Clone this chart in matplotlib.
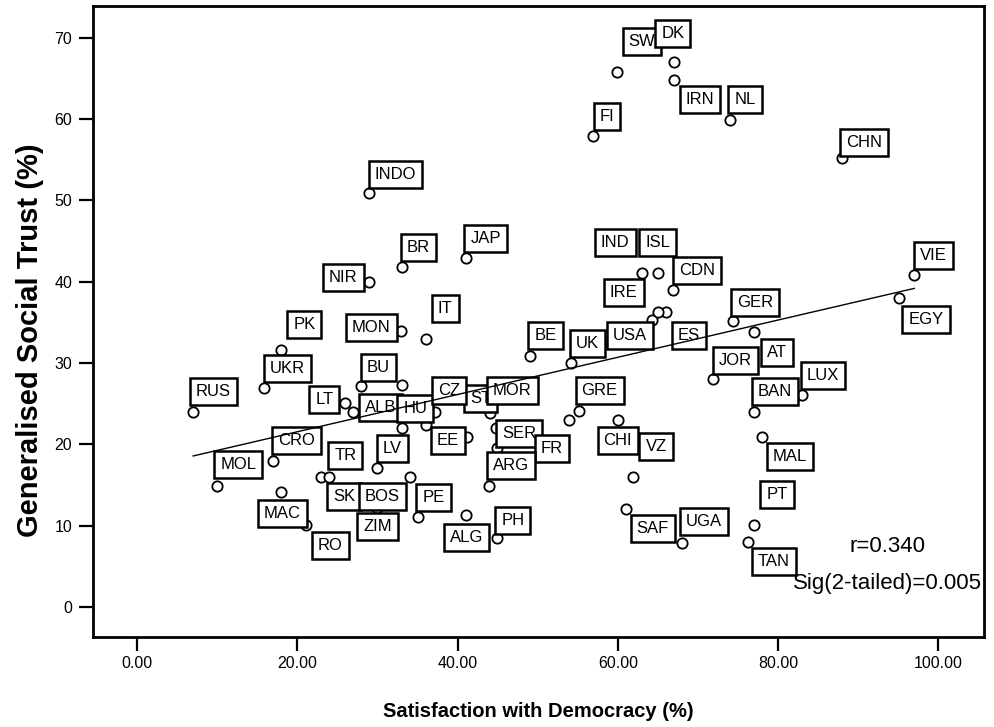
import numpy as np
import matplotlib

matplotlib.use("Agg")
import matplotlib.pyplot as plt

# data ---------------------------------------------------------------
countries = [
    "RUS", "MOL", "UKR", "PK", "CRO", "MAC", "RO", "SK", "TR", "LT",
    "ALB", "BU", "NIR", "INDO", "LV", "BOS", "ZIM", "HU", "MON", "BR",
    "PE", "IT", "ST", "CZ", "MOR", "EE", "ALG", "JAP", "SER", "FR",
    "ARG", "PH", "BE", "UK", "GRE", "CHI", "VZ", "SAF", "UGA", "FI",
    "SW", "DK", "IRN", "NL", "CHN", "IND", "ISL", "IRE", "CDN", "USA",
    "ES", "GER", "AT", "JOR", "BAN", "LUX", "MAL", "PT", "TAN", "EGY",
    "VIE",
]
satisfaction = [
    7.0, 10.0, 15.9, 18.0, 17.0, 18.0, 21.1, 23.0, 24.0, 26.0,
    27.0, 28.0, 29.0, 29.0, 30.0, 34.1, 30.0, 33.1, 33.0, 33.1,
    35.0, 36.1, 36.0, 37.2, 44.1, 41.2, 41.0, 41.0, 44.8, 44.9,
    43.9, 44.9, 49.1, 54.1, 55.1, 60.0, 61.9, 61.0, 68.0, 56.9,
    59.9, 67.0, 67.0, 74.0, 88.0, 59.3, 65.0, 63.0, 66.9, 64.3,
    66.0, 74.4, 77.0, 71.9, 77.0, 83.0, 78.0, 77.0, 76.2, 95.1,
    97.0,
]
trust = [
    24.0, 14.9, 26.9, 31.6, 18.0, 14.1, 10.1, 16.0, 16.0, 25.1,
    24.0, 27.2, 40.0, 50.9, 17.1, 16.0, 12.2, 22.0, 33.9, 41.8,
    11.1, 33.0, 22.4, 24.0, 23.9, 20.9, 11.3, 42.9, 22.0, 19.6,
    14.9, 8.5, 30.9, 30.0, 24.1, 23.0, 16.0, 12.1, 7.9, 57.9,
    65.8, 67.0, 64.8, 59.9, 55.2, 44.3, 41.1, 41.1, 39.0, 35.3,
    36.3, 35.1, 33.8, 28.0, 24.0, 26.1, 20.9, 10.1, 8.0, 38.0,
    40.8,
]

# points whose labels are not shown
extra_satisfaction = [33.1, 53.9, 65.0]
extra_trust = [27.3, 23.0, 36.3]

# label box placement relative to each point (pixels, layout only)
label_dx = [
    20, 21, 23, 23, 23, 1, 24, 23, 16, -21,
    27, 17, -26, 26, 15, -28, 0, 13, -30, 16,
    16, 19, 55, 14, 22, -19, 1, 20, 23, 55,
    22, 16, 15, 17, 21, 0, 23, 27, 22, 14,
    25, -1, 26, 15, 22, 3, 0, -18, 24, -22,
    23, 22, 23, 22, 21, 21, 28, 23, 26, 27,
    19,
]
label_dy = [
    20, 21, 20, 25, 20, -21, -21, -20, 21, 3,
    4, 18, 4, 19, 19, -20, -19, 20, 4, 20,
    19, 30, 26, 21, 22, -4, -22, 20, -5, -1,
    20, 17, 20, 19, 20, -21, 30, -20, 21, 20,
    30, 29, -20, 20, 16, 4, 30, -20, 19, -16,
    -24, 19, -20, 19, 20, 19, -20, 30, -20, -22,
    20,
]

# fitted line
fit_intercept = 16.96
fit_slope = 0.229
r_value = 0.340
sig_value = 0.005

xticks = [0, 20, 40, 60, 80, 100]
yticks = [0, 10, 20, 30, 40, 50, 60, 70]

SANS = ["Liberation Sans", "DejaVu Sans"]

fig = plt.figure(figsize=(9.95, 7.27), dpi=100)
ax = fig.add_axes([93 / 995, 1 - 637 / 727, (984 - 93) / 995, (637 - 6) / 727])

# points
ax.scatter(satisfaction + extra_satisfaction, trust + extra_trust,
           s=55, facecolors="white", edgecolors="black", linewidths=1.3, zorder=2)

# labels in boxes
for name, x, y, dx, dy in zip(countries, satisfaction, trust, label_dx, label_dy):
    ax.annotate(name, (x, y), xytext=(dx, dy), textcoords="offset pixels",
                ha="center", va="center", fontsize=12, family=SANS,
                bbox=dict(boxstyle="square,pad=0.36", fc="white", ec="black", lw=1.8),
                zorder=3)

# fit line
xs = np.array([min(satisfaction), max(satisfaction)])
ax.plot(xs, fit_intercept + fit_slope * xs, color="black", lw=1.0, zorder=4)

ax.text(93.7, 7.4, f"r={r_value:.3f}", ha="center", va="center",
        fontsize=16, family=SANS, zorder=5)
ax.text(93.7, 2.9, f"Sig(2-tailed)={sig_value:.3f}", ha="center", va="center",
        fontsize=16, family=SANS, zorder=5)

ax.set_xlim(-5.5, 105.7)
ax.set_ylim(-3.7, 73.9)
ax.set_xticks(xticks)
ax.set_xticklabels([f"{v:.2f}" for v in xticks], family=SANS, fontsize=11.5)
ax.set_yticks(yticks)
ax.set_yticklabels([str(v) for v in yticks], family=SANS, fontsize=11.5)
ax.tick_params(axis="both", direction="out", length=10, width=1.6, color="black")
ax.tick_params(axis="x", pad=4)
ax.tick_params(axis="y", pad=5)

for sp in ax.spines.values():
    sp.set_linewidth(2.0)

ax.set_xlabel("Satisfaction with Democracy (%)", family=SANS, fontsize=14.5,
              fontweight="bold", labelpad=22)
ax.set_ylabel("Generalised Social Trust (%)", family=SANS, fontsize=21,
              fontweight="bold")
ax.yaxis.set_label_coords(-0.055, 0.47)

fig.savefig("out.png", dpi=100)
